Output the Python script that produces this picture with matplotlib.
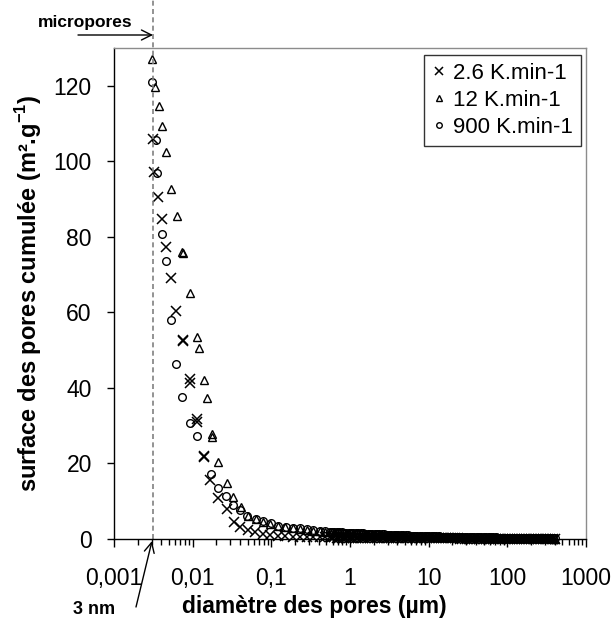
import matplotlib
matplotlib.use('Agg')
import matplotlib.pyplot as plt
import matplotlib.transforms as mtransforms
from matplotlib.ticker import FixedLocator, FixedFormatter, NullFormatter

plt.rcParams['font.family'] = ['Liberation Sans', 'DejaVu Sans']
plt.rcParams['mathtext.fontset'] = 'custom'
plt.rcParams['mathtext.rm'] = 'Liberation Sans'
plt.rcParams['mathtext.bf'] = 'Liberation Sans:bold'

# ---------------- data ----------------
series_labels = ['2.6 K.min-1', '12 K.min-1', '900 K.min-1']

# 2.6 K/min (crosses)
x_26_head = [0.00310, 0.00322, 0.00365, 0.00411, 0.00458, 0.00530, 0.00614, 0.00746, 0.00752,
             0.00925, 0.00935, 0.01125, 0.0114, 0.0139, 0.0141, 0.0166, 0.0211, 0.0270, 0.0335,
             0.0399, 0.0509, 0.0619, 0.0789, 0.0959, 0.121, 0.15, 0.19, 0.23, 0.28, 0.34, 0.41, 0.48]
y_26_head = [105.9, 97.3, 90.5, 84.8, 77.3, 69.1, 60.4, 52.3, 52.8,
             42.4, 41.3, 31.9, 30.9, 21.6, 22.0, 15.6, 10.8, 7.9, 4.6,
             3.3, 2.4, 1.8, 1.2, 1.0, 0.8, 0.75, 0.65, 0.6, 0.55, 0.5, 0.47, 0.45]

# 12 K/min (triangles)
x_12_head = [0.00301, 0.00332, 0.00373, 0.00411, 0.00454, 0.00530, 0.00626, 0.00738, 0.00745,
             0.00925, 0.01125, 0.0120, 0.0139, 0.0151, 0.0174, 0.0176, 0.0211, 0.0270, 0.0328,
             0.0407, 0.0509, 0.0637, 0.0789, 0.0959, 0.122, 0.15, 0.19, 0.23, 0.28, 0.34, 0.41, 0.48]
y_12_head = [127.1, 119.6, 114.7, 109.4, 102.5, 92.6, 85.4, 76.1, 75.8,
             65.2, 53.6, 50.5, 42.1, 37.3, 27.7, 26.9, 20.5, 14.8, 11.0,
             8.4, 6.2, 5.2, 4.4, 3.9, 3.4, 3.1, 2.8, 2.6, 2.4, 2.2, 2.05, 1.95]

# 900 K/min (circles)
x_900_head = [0.00301, 0.00342, 0.00349, 0.00403, 0.00454, 0.00525, 0.00614, 0.00738, 0.00925,
              0.01125, 0.0171, 0.0211, 0.0265, 0.0328, 0.0399, 0.0496, 0.0637, 0.0789, 0.0985,
              0.122, 0.153, 0.190, 0.231, 0.281, 0.341, 0.415, 0.480]
y_900_head = [120.9, 105.7, 97.0, 80.7, 73.5, 58.0, 46.3, 37.7, 30.6,
              27.3, 17.2, 13.4, 11.4, 9.0, 7.7, 6.2, 5.3, 4.8, 4.2,
              3.5, 3.3, 3.0, 2.8, 2.6, 2.4, 2.2, 2.0]

# common diameters of the long (dense) tail, µm
tail_x = [0.55, 0.59, 0.63, 0.68, 0.73, 0.78, 0.84, 0.9, 0.96, 1.03,
          1.1, 1.18, 1.27, 1.36, 1.46, 1.56, 1.67, 1.79, 1.92, 2.06,
          2.21, 2.37, 2.54, 2.72, 2.92, 3.13, 3.35, 3.59, 3.85, 4.13,
          4.43, 4.75, 5.09, 5.46, 5.85, 6.27, 6.72, 7.2, 7.72, 8.28,
          8.87, 9.51, 10.2, 10.9, 11.7, 12.5, 13.4, 14.4, 15.4, 16.5,
          17.7, 19.0, 20.4, 21.8, 23.4, 25.1, 26.9, 28.8, 30.9, 33.1,
          35.5, 38.0, 40.8, 43.7, 46.9, 50.2, 53.8, 57.7, 61.9, 66.3,
          71.1, 76.2, 81.7, 87.6, 93.9, 101, 108, 116, 124, 133,
          142, 153, 164, 175, 188, 202, 216, 232, 248, 266,
          285, 306, 328, 351, 377, 400]
tail_y_900 = [1.9, 1.87, 1.84, 1.81, 1.78, 1.75, 1.72, 1.69, 1.66, 1.63,
              1.6, 1.57, 1.54, 1.51, 1.48, 1.45, 1.42, 1.39, 1.36, 1.33,
              1.3, 1.27, 1.24, 1.21, 1.18, 1.15, 1.12, 1.09, 1.06, 1.03,
              1.0, 0.98, 0.96, 0.94, 0.92, 0.9, 0.88, 0.86, 0.84, 0.82,
              0.8, 0.78, 0.76, 0.74, 0.72, 0.7, 0.68, 0.66, 0.64, 0.62,
              0.6, 0.59, 0.58, 0.57, 0.56, 0.55, 0.54, 0.53, 0.52, 0.51,
              0.5, 0.49, 0.48, 0.47, 0.46, 0.45, 0.44, 0.43, 0.42, 0.41,
              0.4, 0.39, 0.38, 0.37, 0.36, 0.35, 0.34, 0.33, 0.32, 0.31,
              0.3, 0.29, 0.28, 0.27, 0.26, 0.25, 0.24, 0.23, 0.22, 0.21,
              0.2, 0.19, 0.18, 0.17, 0.16, 0.15]
tail_y_12 = [1.85, 1.82, 1.79, 1.76, 1.73, 1.7, 1.67, 1.64, 1.61, 1.58,
             1.55, 1.52, 1.49, 1.46, 1.43, 1.4, 1.37, 1.34, 1.31, 1.28,
             1.25, 1.22, 1.19, 1.16, 1.13, 1.1, 1.07, 1.04, 1.01, 0.98,
             0.96, 0.94, 0.92, 0.9, 0.88, 0.86, 0.84, 0.82, 0.8, 0.78,
             0.76, 0.74, 0.72, 0.7, 0.68, 0.66, 0.64, 0.62, 0.6, 0.58,
             0.57, 0.56, 0.55, 0.54, 0.53, 0.52, 0.51, 0.5, 0.49, 0.48,
             0.47, 0.46, 0.45, 0.44, 0.43, 0.42, 0.41, 0.4, 0.39, 0.38,
             0.37, 0.36, 0.35, 0.34, 0.33, 0.32, 0.31, 0.3, 0.29, 0.28,
             0.27, 0.26, 0.25, 0.24, 0.23, 0.22, 0.21, 0.2, 0.19, 0.18,
             0.17, 0.16, 0.15, 0.14, 0.13, 0.12]
tail_y_26 = [0.42, 0.41, 0.4, 0.39, 0.38, 0.37, 0.36, 0.35, 0.34, 0.34,
             0.33, 0.33, 0.32, 0.32, 0.31, 0.31, 0.3, 0.3, 0.29, 0.29,
             0.28, 0.28, 0.27, 0.27, 0.26, 0.26, 0.25, 0.25, 0.24, 0.24,
             0.23, 0.23, 0.22, 0.22, 0.21, 0.21, 0.2, 0.2, 0.19, 0.19,
             0.18, 0.18, 0.18, 0.17, 0.17, 0.17, 0.16, 0.16, 0.16, 0.15,
             0.15, 0.15, 0.14, 0.14, 0.14, 0.13, 0.13, 0.13, 0.12, 0.12,
             0.12, 0.11, 0.11, 0.11, 0.1, 0.1, 0.1, 0.09, 0.09, 0.09,
             0.08, 0.08, 0.08, 0.08, 0.07, 0.07, 0.07, 0.07, 0.06, 0.06,
             0.06, 0.06, 0.06, 0.05, 0.05, 0.05, 0.05, 0.05, 0.05, 0.05,
             0.05, 0.05, 0.05, 0.05, 0.05, 0.05]

x_ticks = [0.001, 0.01, 0.1, 1, 10, 100, 1000]
x_tick_labels = ['0,001', '0,01', '0,1', '1', '10', '100', '1000']
y_ticks = [0, 20, 40, 60, 80, 100, 120]
micropore_limit = 0.0031  # 3 nm in µm

# ---------------- figure ----------------
W, H = 615, 624
fig = plt.figure(figsize=(W / 100, H / 100), dpi=100)


def fp(px, py):
    return (px / W, 1 - py / H)


ax_l, ax_r, ax_t, ax_b = 114, 586, 48, 539
ax = fig.add_axes([ax_l / W, 1 - ax_b / H, (ax_r - ax_l) / W, (ax_b - ax_t) / H])
ax.set_xscale('log')
ax.set_xlim(0.001, 1000)
ax.set_ylim(0, 130)

ax.plot(x_26_head + tail_x, y_26_head + tail_y_26, linestyle='none', marker='x',
        color='black', markersize=7.5, markeredgewidth=1.1, label=series_labels[0], clip_on=False)
ax.plot(x_12_head + tail_x, y_12_head + tail_y_12, linestyle='none', marker='^',
        markerfacecolor='none', markeredgecolor='black', markersize=5.5, markeredgewidth=1.0,
        label=series_labels[1], clip_on=False)
ax.plot(x_900_head + tail_x, y_900_head + tail_y_900, linestyle='none', marker='o',
        markerfacecolor='none', markeredgecolor='black', markersize=5.5, markeredgewidth=1.0,
        label=series_labels[2], clip_on=False)

# ticks
ax.xaxis.set_major_locator(FixedLocator(x_ticks))
ax.xaxis.set_major_formatter(FixedFormatter(x_tick_labels))
minor = [m * 10.0 ** e for e in range(-3, 3) for m in range(2, 10)]
ax.xaxis.set_minor_locator(FixedLocator(minor))
ax.xaxis.set_minor_formatter(NullFormatter())
ax.set_yticks(y_ticks)
ax.tick_params(axis='x', which='major', direction='out', length=6, width=1, pad=14,
               labelsize=16.5, colors='black')
ax.tick_params(axis='x', which='minor', direction='out', length=4, width=1)
ax.tick_params(axis='y', which='major', direction='out', length=5, width=1, pad=11,
               labelsize=16.5)

for s in ['top', 'right']:
    ax.spines[s].set_color('#8c8c8c')
    ax.spines[s].set_linewidth(1.0)
for s in ['left', 'bottom']:
    ax.spines[s].set_color('black')
    ax.spines[s].set_linewidth(1.0)

ax.set_xlabel('diamètre des pores (µm)', fontsize=16.5, fontweight='bold', va='center')
ax.xaxis.set_label_coords(0.425, -0.138)
ax.set_ylabel(r'surface des pores cumulée (m².g$^{\mathbf{-1}}$)', fontsize=17,
              fontweight='bold', va='center')
ax.yaxis.set_label_coords(-0.18, 0.5)

# legend
leg = ax.legend(loc='upper right', bbox_to_anchor=fp(581, 55), bbox_transform=fig.transFigure,
                borderaxespad=0, frameon=True, fancybox=False, fontsize=16,
                handlelength=0.6, handletextpad=0.35, labelspacing=0.28, borderpad=0.35)
leg.get_frame().set_edgecolor('black')
leg.get_frame().set_linewidth(1.0)
for h, ms in zip(leg.legend_handles, [6, 4, 4]):
    h.set_markersize(ms)

# micropore limit line
trans = mtransforms.blended_transform_factory(ax.transData, ax.transAxes)
ax.plot([micropore_limit, micropore_limit], [0, 1 + ax_t / (ax_b - ax_t)], transform=trans,
        linestyle=(0, (3, 2)), color='#808080', linewidth=1.2, clip_on=False)

# annotations
fig.text(*fp(38, 23), 'micropores', fontsize=12.5, fontweight='bold', ha='left', va='center')
ax.annotate('', xy=fp(153, 35), xycoords='figure fraction', xytext=fp(78, 35),
            textcoords='figure fraction',
            arrowprops=dict(arrowstyle='->', color='black', lw=1.0, mutation_scale=18,
                            shrinkA=0, shrinkB=0))
fig.text(*fp(73, 609), '3 nm', fontsize=13, fontweight='bold', ha='left', va='center')
ax.annotate('', xy=fp(152, 541), xycoords='figure fraction', xytext=fp(136, 607),
            textcoords='figure fraction',
            arrowprops=dict(arrowstyle='->', color='black', lw=1.0, mutation_scale=18,
                            shrinkA=0, shrinkB=0))

fig.savefig('out.png', dpi=100)
